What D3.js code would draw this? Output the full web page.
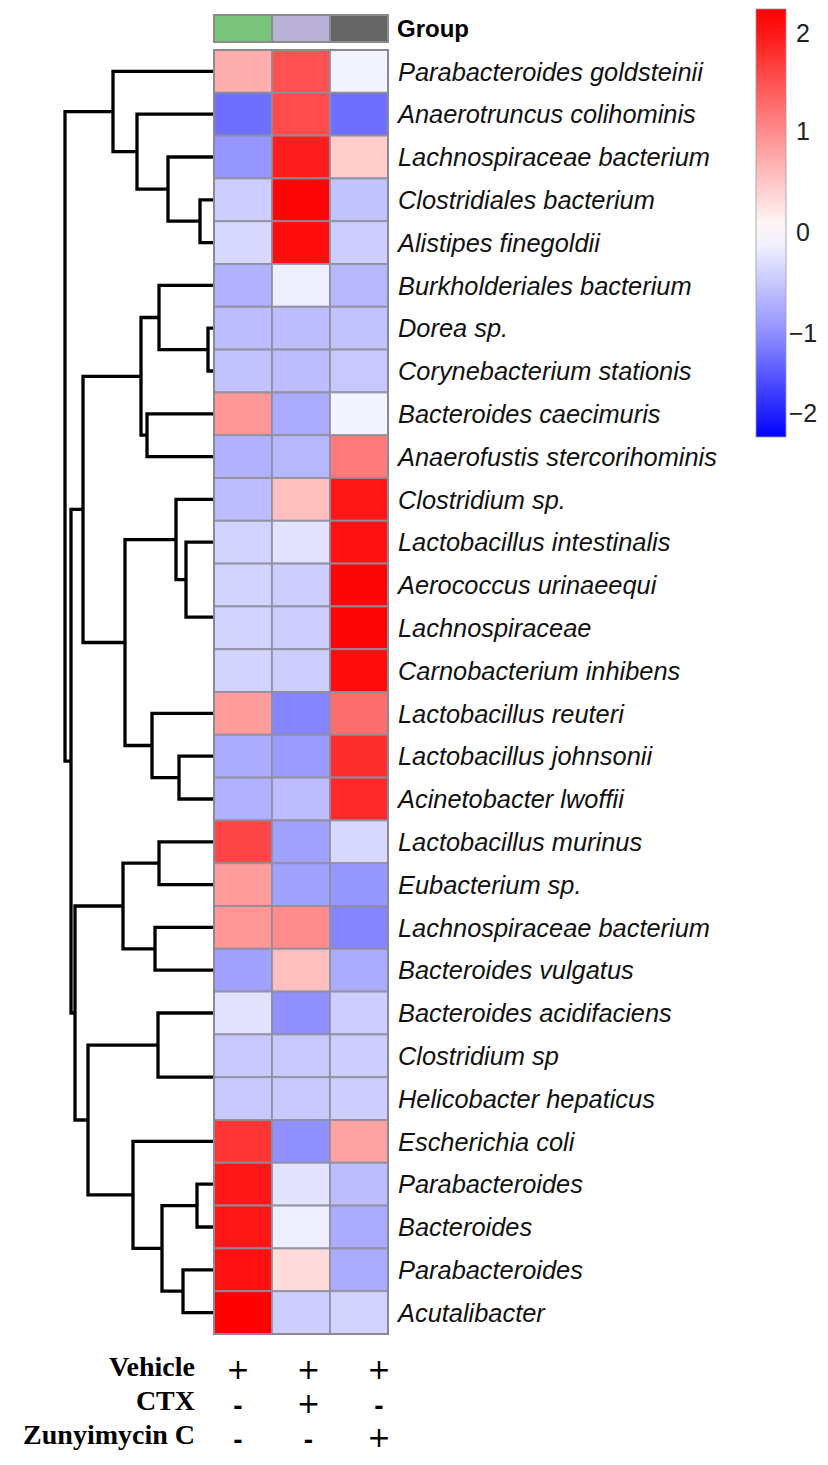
<!DOCTYPE html>
<html>
<head>
<meta charset="utf-8">
<script src="https://cdn.jsdelivr.net/npm/d3@7"></script>
<style>
  body { margin: 0; background: #fff; }
  svg { display: block; }
</style>
</head>
<body>
<div id="heatmap"></div>
<script>
// taxa, top to bottom (order given by the clustering)
var taxa = [
  "Parabacteroides goldsteinii", "Anaerotruncus colihominis", "Lachnospiraceae bacterium",
  "Clostridiales bacterium", "Alistipes finegoldii", "Burkholderiales bacterium",
  "Dorea sp.", "Corynebacterium stationis", "Bacteroides caecimuris",
  "Anaerofustis stercorihominis", "Clostridium sp.", "Lactobacillus intestinalis",
  "Aerococcus urinaeequi", "Lachnospiraceae", "Carnobacterium inhibens",
  "Lactobacillus reuteri", "Lactobacillus johnsonii", "Acinetobacter lwoffii",
  "Lactobacillus murinus", "Eubacterium sp.", "Lachnospiraceae bacterium",
  "Bacteroides vulgatus", "Bacteroides acidifaciens", "Clostridium sp",
  "Helicobacter hepaticus", "Escherichia coli", "Parabacteroides",
  "Bacteroides", "Parabacteroides", "Acutalibacter"
];

// group columns
var groups = ["Vehicle", "CTX", "Zunyimycin C"];
var groupColors = ["#79c47b", "#b9b1d8", "#656565"];

// z-scores per group
var vehicleVals = [0.7, -1.3, -0.95, -0.45, -0.35, -0.7, -0.6, -0.55, 0.9, -0.7,
                   -0.6, -0.4, -0.4, -0.4, -0.4, 0.85, -0.75, -0.7, 1.6, 0.85,
                   0.9, -0.85, -0.25, -0.5, -0.5, 1.75, 2.0, 2.0, 2.05, 2.2];
var ctxVals = [1.5, 1.55, 1.95, 2.15, 2.1, -0.15, -0.6, -0.6, -0.75, -0.65,
               0.55, -0.25, -0.45, -0.45, -0.45, -1.1, -0.9, -0.6, -0.85, -0.85,
               1.0, 0.55, -1.0, -0.5, -0.5, -1.0, -0.25, -0.15, 0.3, -0.45];
var zunyVals = [-0.1, -1.3, 0.45, -0.55, -0.45, -0.65, -0.55, -0.5, -0.1, 1.15,
                2.0, 2.05, 2.15, 2.15, 2.1, 1.25, 1.8, 1.85, -0.35, -0.95,
                -1.1, -0.75, -0.45, -0.45, -0.45, 0.8, -0.6, -0.75, -0.75, -0.4];

// row dendrogram: [child a, child b, height]; leaves are 0..29, merges are 30, 31, ...
var linkage = [
  [3, 4, 16], [2, 30, 48], [1, 31, 79], [0, 32, 103],
  [6, 7, 8], [5, 34, 57], [8, 9, 69], [35, 36, 75],
  [13, 14, 0], [12, 38, 0], [11, 39, 30], [10, 40, 40],
  [16, 17, 37], [15, 42, 64], [41, 43, 91], [37, 44, 133],
  [18, 19, 57], [20, 21, 61], [46, 47, 93], [23, 24, 0],
  [22, 49, 58], [26, 27, 19], [28, 29, 33], [51, 52, 54],
  [25, 53, 83], [50, 54, 128], [48, 55, 141], [45, 56, 145],
  [33, 57, 151]
];

// treatment table under the heatmap
var treatments = ["Vehicle", "CTX", "Zunyimycin C"];
var treatmentSigns = [["+", "+", "+"], ["-", "+", "-"], ["-", "-", "+"]];

var legendTicks = [2, 1, 0, -1, -2];

var width = 828, height = 1465;

var svg = d3.select("#heatmap")
  .append("svg")
    .attr("width", width)
    .attr("height", height);

svg.append("rect").attr("width", width).attr("height", height).attr("fill", "#fff");

// scales
var x = d3.scaleBand()
  .domain(groups)
  .range([214, 388]);

var y = d3.scaleBand()
  .domain(d3.range(taxa.length))
  .range([50, 1334]);

var color = d3.scaleLinear()
  .domain([-2.3, 0, 2.2])
  .range(["#0000ff", "#ffffff", "#ff0000"])
  .clamp(true);

var hx = d3.scaleLinear()
  .domain([0, 151])
  .range([216, 65]);

// Dendrogram
var nodes = taxa.map(function(d, i) { return {y: y(i) + y.bandwidth() / 2, h: 0}; });
linkage.forEach(function(m) {
  nodes.push({y: (nodes[m[0]].y + nodes[m[1]].y) / 2, h: m[2], a: m[0], b: m[1]});
});

svg.append("g")
  .selectAll("path")
  .data(nodes.filter(function(d) { return d.a !== undefined; }))
  .enter()
  .append("path")
    .attr("d", function(d) {
      var A = nodes[d.a], B = nodes[d.b];
      return "M" + hx(A.h) + "," + A.y + "H" + hx(d.h) + "V" + B.y + "H" + hx(B.h);
    })
    .attr("fill", "none")
    .attr("stroke", "#000")
    .attr("stroke-width", 3.3)
    .attr("stroke-linejoin", "miter");

// Heatmap cells
var cells = [];
var series = [vehicleVals, ctxVals, zunyVals];
series.forEach(function(vals, j) {
  vals.forEach(function(v, i) { cells.push({row: i, group: groups[j], value: v}); });
});

svg.append("g")
  .selectAll("rect")
  .data(cells)
  .enter()
  .append("rect")
    .attr("x", function(d) { return x(d.group); })
    .attr("y", function(d) { return y(d.row); })
    .attr("width", x.bandwidth())
    .attr("height", y.bandwidth())
    .attr("fill", function(d) { return color(d.value); })
    .attr("stroke", "#8e8e9c")
    .attr("stroke-opacity", 0.85)
    .attr("stroke-width", 2);

svg.append("rect")
  .attr("x", 214).attr("y", 50)
  .attr("width", 174).attr("height", 1284)
  .attr("fill", "none")
  .attr("stroke", "#8a8a94")
  .attr("stroke-width", 2);

// Group annotation bar
svg.append("g")
  .selectAll("rect")
  .data(groups)
  .enter()
  .append("rect")
    .attr("x", function(d) { return x(d); })
    .attr("y", 15)
    .attr("width", x.bandwidth())
    .attr("height", 27)
    .attr("fill", function(d, i) { return groupColors[i]; })
    .attr("stroke", "#8c8c8c")
    .attr("stroke-width", 2);

svg.append("text")
  .attr("x", 397)
  .attr("y", 28)
  .attr("dy", "0.36em")
  .style("font-family", "'Liberation Sans', Arial, sans-serif")
  .style("font-weight", "bold")
  .style("font-size", "24px")
  .text("Group");

// Row labels
svg.append("g")
  .selectAll("text")
  .data(taxa)
  .enter()
  .append("text")
    .attr("x", 398)
    .attr("y", function(d, i) { return y(i) + y.bandwidth() / 2; })
    .attr("dy", "0.36em")
    .style("font-family", "'Liberation Sans', Arial, sans-serif")
    .style("font-style", "italic")
    .style("font-size", "25.4px")
    .style("fill", "#111")
    .text(function(d) { return d; });

// Colour legend
var legendY = d3.scaleLinear()
  .domain([-2, -1, 0, 1, 2])
  .range([413, 333, 232, 131, 33]);

var grad = svg.append("defs").append("linearGradient")
  .attr("id", "legendGrad")
  .attr("x1", 0).attr("y1", 0).attr("x2", 0).attr("y2", 1);

grad.selectAll("stop")
  .data(d3.range(0, 1.0001, 0.05))
  .enter()
  .append("stop")
    .attr("offset", function(t) { return t; })
    .attr("stop-color", function(t) { return color(legendY.invert(9 + t * (437 - 9))); });

svg.append("rect")
  .attr("x", 756).attr("y", 9)
  .attr("width", 30).attr("height", 428)
  .attr("fill", "url(#legendGrad)")
  .attr("stroke", "#9a9aa6")
  .attr("stroke-width", 0.8);

svg.append("g")
  .selectAll("text")
  .data(legendTicks)
  .enter()
  .append("text")
    .attr("x", 803)
    .attr("y", function(d) { return legendY(d); })
    .attr("dy", "0.36em")
    .attr("text-anchor", "middle")
    .style("font-family", "'Liberation Sans', Arial, sans-serif")
    .style("font-size", "25px")
    .style("fill", "#222")
    .text(function(d) { return d < 0 ? "\u2212" + Math.abs(d) : d; });

// Treatment table
var tRow = d3.scalePoint()
  .domain(treatments)
  .range([1369, 1437]);

var tCol = d3.scalePoint()
  .domain(groups)
  .range([238, 379]);

svg.append("g")
  .selectAll("text")
  .data(treatments)
  .enter()
  .append("text")
    .attr("x", 195)
    .attr("y", function(d) { return tRow(d) + 7; })
    .attr("text-anchor", "end")
    .style("font-family", "'Liberation Serif', 'Times New Roman', serif")
    .style("font-weight", "bold")
    .style("font-size", "28px")
    .text(function(d) { return d; });

var signs = [];
treatmentSigns.forEach(function(row, i) {
  row.forEach(function(s, j) { signs.push({row: treatments[i], group: groups[j], sign: s}); });
});

svg.append("g")
  .selectAll("text")
  .data(signs)
  .enter()
  .append("text")
    .attr("x", function(d) { return tCol(d.group); })
    .attr("y", function(d) { return tRow(d.row); })
    .attr("dy", function(d) { return d.sign === "+" ? "0.36em" : "0.42em"; })
    .attr("text-anchor", "middle")
    .style("font-family", function(d) {
      return d.sign === "+" ? "'DejaVu Sans', sans-serif" : "'Liberation Sans', Arial, sans-serif";
    })
    .style("font-size", "28px")
    .style("font-weight", function(d) { return d.sign === "+" ? "normal" : "bold"; })
    .text(function(d) { return d.sign; });
</script>
</body>
</html>
